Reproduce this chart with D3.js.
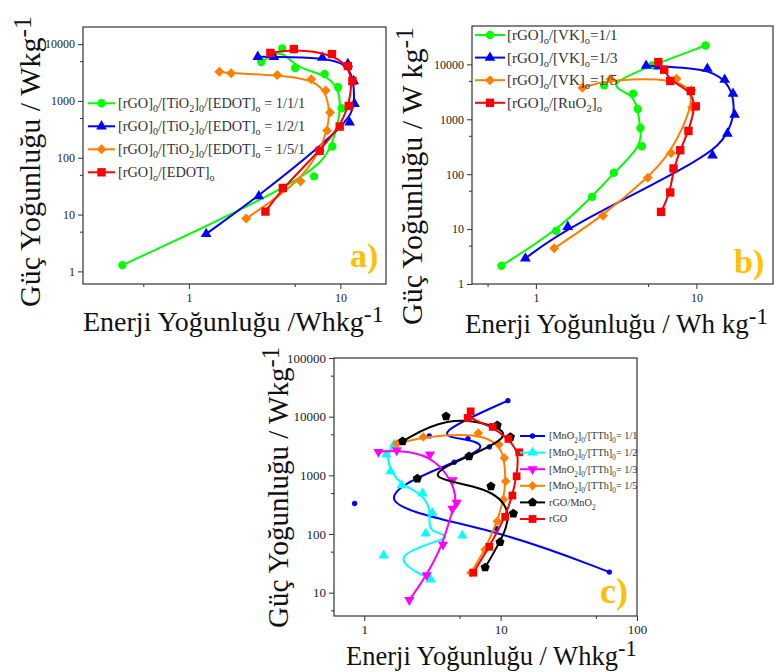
<html>
<head>
<meta charset="utf-8" />
<script src="https://d3js.org/d3.v7.min.js"></script>
<style>
  body { margin: 0; background: #fff; }
  svg text { font-family: "Liberation Serif", "Times New Roman", serif; }
</style>
</head>
<body>
<svg id="chart" width="777" height="672"></svg>
<script>
// ---- panel a : [energy Wh/kg, power W/kg]
var a_111 = [[0.364,1.29],[6.7,47],[8.85,158],[10.2,745],[9.66,1740],[7.87,2980],[5.03,3790],[4.13,8400],[3.0,4830]];
var a_121 = [[1.3,4.58],[2.89,21],[11.5,417],[12.4,885],[12.25,2240],[11.2,4460],[7.6,5760],[3.64,5980],[2.85,5980]];
var a_151 = [[2.39,8.5],[5.46,38.4],[7.3,133],[8.17,301],[8.55,623],[8.0,1520],[6.43,2400],[3.83,2860],[1.9,3060],[1.59,3270]];
var a_edot = [[3.2,11.3],[4.17,29.4],[7.3,133],[9.9,354],[11.35,817],[12.0,2240],[11.2,4110],[8.8,6680],[4.93,8170],[3.45,7000]];
var aXTicks = [1, 10], aYTicks = [1, 10, 100, 1000, 10000];

// ---- panel b
var b_11 = [[0.61,2.15],[1.34,9.3],[2.24,38.7],[3.06,106],[4.57,323],[4.48,695],[4.31,1540],[4.04,2930],[2.66,4150],[5.3,9600],[11.4,22100]];
var b_13 = [[0.86,2.93],[1.58,11],[12.6,221],[15.6,550],[17.3,1217],[16.9,2930],[15.0,5260],[11.7,8340],[5.82,9200],[4.86,9460]];
var b_15 = [[1.3,4.46],[2.62,17.5],[4.98,85.7],[6.95,244],[9.4,1650],[9.3,3370],[7.52,5500],[2.92,5340],[1.95,3770]];
var b_ru = [[6.02,20.6],[6.87,46.5],[7.2,127],[7.93,273],[8.92,613],[9.91,1720],[9.23,3270],[6.87,4980],[6.3,8000],[5.79,11000]];
var bXTicks = [1, 10], bYTicks = [1, 10, 100, 1000, 10000];

// ---- panel c
var c_11 = [[62.7,22.4],[9.36,123],[0.85,331],[4.57,1670],[8.26,3055],[5.76,4230],[3.0,4700],[11.3,18740]];
var c_12 = [[1.65,3340],[1.45,2260],[1.56,1175],[1.88,678],[2.68,490],[3.15,230],[2.82,102],[5.24,94],[1.39,43],[3.07,16.8]];
var c_13 = [[2.14,7.48],[2.87,19.9],[3.78,66],[4.43,269],[4.76,340],[4.45,824],[3.03,2260],[1.73,2670],[1.27,2510]];
var c_15 = [[6.06,21.9],[7.7,54.6],[9.46,165],[10.5,387],[10.9,794],[10.65,1983],[9.72,3340],[6.86,5290],[2.71,4520],[1.73,3470]];
var c_mno2 = [[7.7,26.9],[9.89,72.6],[12.4,223],[8.49,651],[2.45,880],[5.87,2110],[11.8,4500],[9.45,7120],[3.98,10120],[1.91,3800]];
var c_rgo = [[6.31,21.9],[8.26,60.5],[10.8,196],[12.2,452],[13.1,964],[13.7,2470],[11.4,4170],[8.75,6680],[5.73,9500],[6.03,12300]];
var cXTicks = [1, 10, 100], cYTicks = [10, 100, 1000, 10000, 100000];

var svg = d3.select("#chart");

// marker shapes
var shapes = {
  circle: d3.symbolCircle,
  square: d3.symbolSquare,
  up: { draw: function (c, s) { var a = Math.sqrt(s / 0.433); var h = a * 0.866;
        c.moveTo(0, -h * 2 / 3); c.lineTo(a / 2, h / 3); c.lineTo(-a / 2, h / 3); c.closePath(); } },
  down: { draw: function (c, s) { var a = Math.sqrt(s / 0.433); var h = a * 0.866;
        c.moveTo(0, h * 2 / 3); c.lineTo(a / 2, -h / 3); c.lineTo(-a / 2, -h / 3); c.closePath(); } },
  diamond: { draw: function (c, s) { var r = Math.sqrt(s / 2);
        c.moveTo(0, -r); c.lineTo(r, 0); c.lineTo(0, r); c.lineTo(-r, 0); c.closePath(); } },
  pentagon: { draw: function (c, s) { var r = Math.sqrt(s / 2.378);
        for (var i = 0; i < 5; i++) { var t = -Math.PI / 2 + i * 2 * Math.PI / 5;
          if (i == 0) c.moveTo(r * Math.cos(t), r * Math.sin(t)); else c.lineTo(r * Math.cos(t), r * Math.sin(t)); }
        c.closePath(); } }
};

function rich(sel, str) {
  // "_x" -> subscript char, "^..." -> superscript rest
  var sup = null;
  if (str.indexOf("^") >= 0) { sup = str.split("^")[1]; str = str.split("^")[0]; }
  var parts = str.split(/(_.)/).filter(function (s) { return s.length; });
  var shift = 0;
  parts.forEach(function (p) {
    if (p[0] == "_") {
      sel.append("tspan").attr("dy", 4 - shift).attr("font-size", "0.7em").text(p[1]);
      shift = 4;
    } else {
      sel.append("tspan").attr("dy", -shift).text(p);
      shift = 0;
    }
  });
  if (sup) sel.append("tspan").attr("dy", -9).attr("font-size", "0.85em").text(sup);
}

function drawPanel(p) {
  var x = d3.scaleLog().domain(p.xDomain).range([p.left, p.right]);
  var y = d3.scaleLog().domain(p.yDomain).range([p.bottom, p.top]);
  var g = svg.append("g");

  g.append("g").attr("transform", "translate(0," + p.bottom + ")")
    .call(d3.axisBottom(x).tickValues(p.xTicks).tickFormat(d3.format("d")).tickSize(5).tickSizeOuter(0).tickPadding(4));
  g.append("g").attr("transform", "translate(0," + p.bottom + ")")
    .call(d3.axisBottom(x).tickValues(p.xMinor).tickFormat("").tickSize(3).tickSizeOuter(0));
  g.append("g").attr("transform", "translate(" + p.left + ",0)")
    .call(d3.axisLeft(y).tickValues(p.yTicks).tickFormat(d3.format("d")).tickSize(5).tickSizeOuter(0).tickPadding(3));
  g.append("g").attr("transform", "translate(" + p.left + ",0)")
    .call(d3.axisLeft(y).tickValues(p.yMinor).tickFormat("").tickSize(3).tickSizeOuter(0));
  g.selectAll(".domain").remove();
  g.selectAll(".tick line").attr("stroke", "#333");
  g.selectAll(".tick text").attr("font-family", "Liberation Serif").attr("font-size", p.tickFs).attr("fill", "#222");

  g.append("rect").attr("x", p.left).attr("y", p.top)
    .attr("width", p.right - p.left).attr("height", p.bottom - p.top)
    .attr("fill", "none").attr("stroke", "#333").attr("stroke-width", 1.2);

  var line = d3.line().x(function (d) { return x(d[0]); }).y(function (d) { return y(d[1]); }).curve(d3.curveBasis);

  p.series.forEach(function (s) {
    g.append("path").datum(s.data).attr("d", line)
      .attr("fill", "none").attr("stroke", s.color).attr("stroke-width", p.lw);
    g.selectAll(null).data(s.data).enter().append("path")
      .attr("transform", function (d) { return "translate(" + x(d[0]) + "," + y(d[1]) + ")"; })
      .attr("d", d3.symbol().type(shapes[s.shape]).size(s.size))
      .attr("fill", s.color);
  });

  // legend
  var lg = g.append("g");
  if (p.clipLegend) {
    svg.append("clipPath").attr("id", "clip" + p.id).append("rect")
      .attr("x", p.left).attr("y", p.top).attr("width", p.right - p.left).attr("height", p.bottom - p.top + 40);
    lg.attr("clip-path", "url(#clip" + p.id + ")");
  }
  p.series.forEach(function (s, i) {
    var ly = p.leg.y0 + i * p.leg.dy;
    lg.append("line").attr("x1", p.leg.x0).attr("x2", p.leg.x1).attr("y1", ly).attr("y2", ly)
      .attr("stroke", s.color).attr("stroke-width", p.lw);
    lg.append("path").attr("transform", "translate(" + (p.leg.x0 + p.leg.x1) / 2 + "," + ly + ")")
      .attr("d", d3.symbol().type(shapes[s.shape]).size(s.size)).attr("fill", s.color);
    var t = lg.append("text").attr("x", p.leg.tx).attr("y", ly + p.leg.fs * 0.33)
      .attr("font-size", p.leg.fs).attr("fill", "#333");
    rich(t, s.label);
  });

  // titles
  var xt = g.append("text").attr("x", p.xt[0]).attr("y", p.xt[1]).attr("font-size", p.xt[2]).attr("fill", "#111");
  rich(xt, p.xTitle);
  var yt = g.append("text").attr("transform", "translate(" + p.yt[0] + "," + p.yt[1] + ") rotate(-90)")
    .attr("font-size", p.yt[2]).attr("fill", "#111");
  rich(yt, p.yTitle);

  g.append("text").attr("x", p.tag[0]).attr("y", p.tag[1]).attr("font-size", p.tag[2])
    .attr("font-weight", "bold").attr("fill", "#ffc000").text(p.tag[3]);
}

drawPanel({
  id: "a", left: 83, right: 386, top: 27, bottom: 284,
  xDomain: [0.2, 20], yDomain: [0.6, 20000],
  xTicks: aXTicks, yTicks: aYTicks, xMinor: [0.5, 5], yMinor: [5, 50, 500, 5000],
  tickFs: 12, lw: 2,
  series: [
    { data: a_111, color: "#00ff00", shape: "circle", size: 55, label: "[rGO]_0/[TiO_2]_0/[EDOT]_o = 1/1/1" },
    { data: a_121, color: "#0000ff", shape: "up", size: 50, label: "[rGO]_0/[TiO_2]_0/[EDOT]_o  = 1/2/1" },
    { data: a_151, color: "#ff8000", shape: "diamond", size: 50, label: "[rGO]_0/[TiO_2]_0/[EDOT]_o  = 1/5/1" },
    { data: a_edot, color: "#ff0000", shape: "square", size: 70, label: "[rGO]_o/[EDOT]_o" }
  ],
  leg: { x0: 88, x1: 115, tx: 118, y0: 103.3, dy: 23, fs: 14.3 },
  xTitle: "Enerji Yoğunluğu /Whkg^-1", xt: [83, 331, 28],
  yTitle: "Güç Yoğunluğu / Wkg^-1", yt: [40, 307, 30],
  tag: [350, 267, 34, "a)"]
});

drawPanel({
  id: "b", left: 472, right: 773, top: 26, bottom: 284,
  xDomain: [0.4, 30], yDomain: [1, 50000],
  xTicks: bXTicks, yTicks: bYTicks, xMinor: [0.5, 5], yMinor: [5, 50, 500, 5000],
  tickFs: 12, lw: 2,
  series: [
    { data: b_11, color: "#00ff00", shape: "circle", size: 55, label: "[rGO]_o/[VK]_o=1/1" },
    { data: b_13, color: "#0000ff", shape: "up", size: 50, label: "[rGO]_o/[VK]_o=1/3" },
    { data: b_15, color: "#ff8000", shape: "diamond", size: 50, label: "[rGO]_o/[VK]_o=1/5" },
    { data: b_ru, color: "#ff0000", shape: "square", size: 70, label: "[rGO]_o/[RuO_2]_o" }
  ],
  leg: { x0: 475, x1: 505, tx: 507, y0: 35, dy: 22.6, fs: 15 },
  xTitle: "Enerji Yoğunluğu / Wh kg^-1", xt: [465, 333, 27],
  yTitle: "Güç Yoğunluğu / W kg^-1", yt: [422, 325, 30],
  tag: [734, 273, 34, "b)"]
});

drawPanel({
  id: "c", left: 334, right: 637, top: 358, bottom: 616, clipLegend: true,
  xDomain: [0.6, 100], yDomain: [4, 100000],
  xTicks: cXTicks, yTicks: cYTicks, xMinor: [5, 50], yMinor: [5, 50, 500, 5000, 50000],
  tickFs: 13, lw: 2,
  series: [
    { data: c_11, color: "#0000ff", shape: "circle", size: 22, label: "[MnO_2]_0/[TTh]_0= 1/1" },
    { data: c_12, color: "#00ffff", shape: "up", size: 45, label: "[MnO_2]_0/[TTh]_0= 1/2" },
    { data: c_13, color: "#ff00ff", shape: "down", size: 45, label: "[MnO_2]_0/[TTh]_0= 1/3" },
    { data: c_15, color: "#ff8000", shape: "diamond", size: 45, label: "[MnO_2]_0/[TTh]_0= 1/5" },
    { data: c_mno2, color: "#000000", shape: "pentagon", size: 55, label: "rGO/MnO_2" },
    { data: c_rgo, color: "#ff0000", shape: "square", size: 60, label: "rGO" }
  ],
  leg: { x0: 520, x1: 545, tx: 549, y0: 436, dy: 16.6, fs: 10.3 },
  xTitle: "Enerji Yoğunluğu / Whkg^-1", xt: [346, 665, 26.5],
  yTitle: "Güç Yoğunluğu / Wkg^-1", yt: [288, 628, 29],
  tag: [600, 603, 36, "c)"]
});
</script>
</body>
</html>
